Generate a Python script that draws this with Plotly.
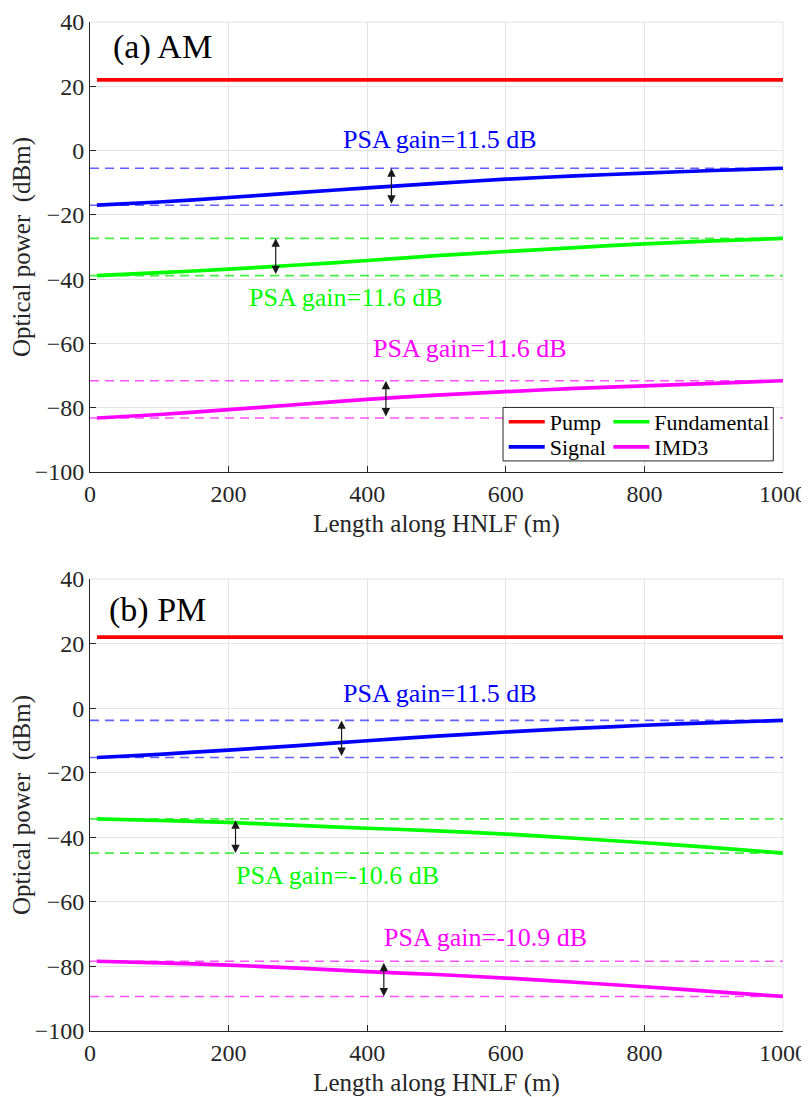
import plotly.graph_objects as go

# ---------------- data ----------------
length_m = [10, 100, 200, 300, 400, 500, 600, 700, 800, 900, 1000]

# (a) AM
pump_a = [22, 22, 22, 22, 22, 22, 22, 22, 22, 22, 22]
signal_a = [-17.0, -16.0, -14.6, -13.1, -11.6, -10.2, -8.9, -7.9, -7.0, -6.2, -5.5]
fund_a = [-38.9, -38.0, -36.9, -35.6, -34.2, -32.7, -31.4, -30.2, -29.0, -28.1, -27.3]
imd3_a = [-83.2, -82.1, -80.6, -79.0, -77.4, -76.1, -75.0, -74.0, -73.2, -72.4, -71.6]

# (b) PM
pump_b = [22, 22, 22, 22, 22, 22, 22, 22, 22, 22, 22]
signal_b = [-15.3, -14.3, -13.0, -11.6, -10.1, -8.7, -7.4, -6.3, -5.3, -4.5, -3.8]
fund_b = [-34.3, -34.8, -35.4, -36.3, -37.2, -38.0, -39.0, -40.3, -41.7, -43.2, -44.9]
imd3_b = [-78.4, -78.9, -79.6, -80.5, -81.6, -82.5, -83.6, -84.9, -86.3, -87.8, -89.3]

gain_labels_a = ["PSA gain=11.5 dB", "PSA gain=11.6 dB", "PSA gain=11.6 dB"]
gain_labels_b = ["PSA gain=11.5 dB", "PSA gain=-10.6 dB", "PSA gain=-10.9 dB"]

x_ticks = [0, 200, 400, 600, 800, 1000]
y_ticks = [-100, -80, -60, -40, -20, 0, 20, 40]

# ---------------- style ----------------
FONT = "Liberation Serif, 'Times New Roman', Times, serif"
C_PUMP = "#ff0000"
C_SIG = "#0000ff"
C_FUND = "#00ff00"
C_IMD = "#ff00ff"
C_SIG_D = "rgba(0,0,255,0.62)"
C_FUND_D = "rgba(0,230,0,0.72)"
C_IMD_D = "rgba(255,0,255,0.68)"
AX = "#262626"

fig = go.Figure()

legend_of = {"Pump": "legend", "Signal": "legend2",
             "Fundamental": "legend3", "IMD3": "legend4"}


def add_panel(xa, ya, pump, sig, fund, imd, legend_on):
    xx = "x" if xa == 1 else "x%d" % xa
    yy = "y" if ya == 1 else "y%d" % ya
    for series, col in ((sig, C_SIG_D), (fund, C_FUND_D), (imd, C_IMD_D)):
        for val in (series[0], series[-1]):
            fig.add_trace(go.Scatter(
                x=[x_ticks[0], x_ticks[-1]], y=[val, val], mode="lines",
                line=dict(color=col, width=1.6, dash="9px,6px"),
                showlegend=False, hoverinfo="skip", xaxis=xx, yaxis=yy))
    for name, series, col in (("Pump", pump, C_PUMP),
                              ("Signal", sig, C_SIG),
                              ("Fundamental", fund, C_FUND),
                              ("IMD3", imd, C_IMD)):
        fig.add_trace(go.Scatter(
            x=length_m, y=series, mode="lines", name=name,
            line=dict(color=col, width=3.7, shape="spline", smoothing=0.6),
            showlegend=legend_on, legend=legend_of[name], xaxis=xx, yaxis=yy))


add_panel(1, 1, pump_a, signal_a, fund_a, imd3_a, True)
add_panel(2, 2, pump_b, signal_b, fund_b, imd3_b, False)

tickfont = dict(family=FONT, size=24, color=AX)
titlefont = dict(family=FONT, size=25, color=AX)

xcommon = dict(range=[0, 1000], tickvals=x_ticks, showline=True, linecolor=AX,
               linewidth=1, ticks="inside", ticklen=6, tickcolor=AX,
               showgrid=True, gridcolor="#e3e3e3", gridwidth=1, zeroline=False,
               tickfont=tickfont, automargin=False,
               title=dict(text="Length along HNLF (m)", font=titlefont, standoff=8))
ycommon = dict(range=[-100, 40], tickvals=y_ticks, showline=True, linecolor=AX,
               linewidth=1, ticks="inside", ticklen=6, tickcolor=AX,
               showgrid=True, gridcolor="#e3e3e3", gridwidth=1, zeroline=False,
               tickfont=tickfont, automargin=False,
               title=dict(text="Optical power\u00a0 (dBm)", font=titlefont, standoff=5))

leg_font = dict(family=FONT, size=22, color="black")
leg_common = dict(xanchor="left", yanchor="middle", bgcolor="rgba(0,0,0,0)",
                  borderwidth=0, font=leg_font, itemwidth=36)

# The page body adds an 8 px offset; the figure is sized so the plot fills the window.
fig.update_layout(
    width=801, height=1089, autosize=False,
    margin=dict(l=82, r=26, t=14, b=66, autoexpand=False),
    paper_bgcolor="white", plot_bgcolor="white",
    font=dict(family=FONT, color=AX),
    xaxis=dict(domain=[0, 1], anchor="y", **xcommon),
    yaxis=dict(domain=[0.554, 1.0], anchor="x", **ycommon),
    xaxis2=dict(domain=[0, 1], anchor="y2", **xcommon),
    yaxis2=dict(domain=[0.0, 0.448], anchor="x2", **ycommon),
    legend=dict(x=0.597, y=0.6036, **leg_common),
    legend2=dict(x=0.597, y=0.5788, **leg_common),
    legend3=dict(x=0.748, y=0.6036, **leg_common),
    legend4=dict(x=0.748, y=0.5788, **leg_common),
    showlegend=True,
)

# legend box
fig.add_shape(type="rect", xref="paper", yref="paper",
              x0=0.596, x1=0.986, y0=0.565, y1=0.618,
              line=dict(color=AX, width=1), fillcolor="white", layer="above")

# top / right light borders (grid continuation)
for xr, yr in (("x domain", "y domain"), ("x2 domain", "y2 domain")):
    fig.add_shape(type="line", xref=xr, yref=yr, x0=0, x1=1, y0=1, y1=1,
                  line=dict(color="#e3e3e3", width=1), layer="below")
    fig.add_shape(type="line", xref=xr, yref=yr, x0=1, x1=1, y0=0, y1=1,
                  line=dict(color="#e3e3e3", width=1), layer="below")

# panel titles
fig.add_annotation(text="(a) AM", xref="x domain", yref="y domain", x=0.03, y=0.944,
                   xanchor="left", yanchor="middle", showarrow=False,
                   font=dict(family=FONT, size=34, color="black"))
fig.add_annotation(text="(b) PM", xref="x2 domain", yref="y2 domain", x=0.025, y=0.931,
                   xanchor="left", yanchor="middle", showarrow=False,
                   font=dict(family=FONT, size=34, color="black"))

# gain labels and arrows
label_pos_a = [(505, 3.6), (370, -45.6), (549, -61.7)]
label_pos_b = [(505, 4.5), (357, -51.8), (570, -71.0)]
arrow_x_a = [435, 268, 427]
arrow_x_b = [363, 210, 424]
cols = [C_SIG, C_FUND, C_IMD]

for xr, yr, labels, lpos, ax_x, series_list in (
        ("x", "y", gain_labels_a, label_pos_a, arrow_x_a, (signal_a, fund_a, imd3_a)),
        ("x2", "y2", gain_labels_b, label_pos_b, arrow_x_b, (signal_b, fund_b, imd3_b))):
    for lab, (lx, ly), axx, s, c in zip(labels, lpos, ax_x, series_list, cols):
        fig.add_annotation(text=lab, x=lx, y=ly, xref=xr, yref=yr, showarrow=False,
                           xanchor="center", yanchor="middle",
                           font=dict(family=FONT, size=26, color=c))
        fig.add_annotation(text="", x=axx, y=s[-1], ax=axx, ay=s[0],
                           xref=xr, yref=yr, axref=xr, ayref=yr,
                           showarrow=True, arrowhead=2, startarrowhead=2,
                           arrowside="end+start", arrowsize=1.4, startarrowsize=1.4,
                           arrowwidth=1.2, arrowcolor="#1a1a1a", standoff=0, startstandoff=0)

fig.write_html("out.html")
